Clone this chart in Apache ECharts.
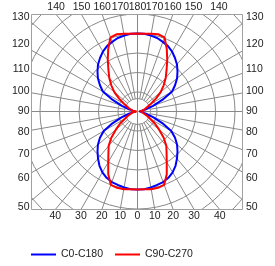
<!DOCTYPE html>
<html>
<head>
<meta charset="utf-8">
<script src="https://cdn.jsdelivr.net/npm/echarts@6/dist/echarts.min.js"></script>
<style>
  html, body { margin: 0; padding: 0; background: #fff; }
  #chart { width: 275px; height: 266px; }
</style>
</head>
<body>
<div id="chart"></div>
<script>
// gamma angle from nadir (0 = down, 180 = up), 5 deg steps
var gammas = [0, 5, 10, 15, 20, 25, 30, 35, 40, 45, 50, 55, 60, 65, 70, 75, 80, 85, 90,
              95, 100, 105, 110, 115, 120, 125, 130, 135, 140, 145, 150, 155, 160, 165, 170, 175, 180];
// C0-C180 plane
var c0c180 = [80, 80, 79, 78, 77, 75, 72, 68, 63, 58, 53, 47, 40, 28, 17, 9, 5, 2, 1,
              2, 5, 9, 17, 28, 41, 47, 53, 58, 63, 67, 71, 74, 76, 78, 79, 80, 80];
// C90-C270 plane
var c90c270 = [80, 80, 81, 81, 80, 71, 60, 52, 46, 38, 29, 22, 15, 11, 8, 6, 5, 3, 1,
               3, 5, 7, 9, 11, 16, 23, 31, 38, 45, 52, 61, 71, 81, 82, 81, 80, 80];
// angle labels round the frame
var topLabels = [140, 150, 160, 170, 180, 170, 160, 150, 140];
var sideLabels = [130, 120, 110, 100, 90, 80, 70, 60, 50];
var bottomLabels = [40, 30, 20, 10, 0, 10, 20, 30, 40];
var seriesNames = ['C0-C180', 'C90-C270'];

var cx = 137.5, cy = 111.5;
var L = 31.5, R = 242.5, T = 14.5, B = 209.5;
var gridColor = '#888888';
var font = '"Liberation Sans", Arial, sans-serif';

// both halves of a plane, right half mirrored
function planeData(vals) {
    var d = [];
    for (var i = 0; i < gammas.length; i++) d.push([vals[i], gammas[i]]);
    for (var j = gammas.length - 1; j >= 0; j--) d.push([vals[j], 360 - gammas[j]]);
    return d;
}

function rad(a) { return a * Math.PI / 180; }

var graphics = [
    { type: 'rect', z: 10, shape: { x: 0, y: 0, width: 275, height: T }, style: { fill: '#fff' } },
    { type: 'rect', z: 10, shape: { x: 0, y: B, width: 275, height: 266 - B }, style: { fill: '#fff' } },
    { type: 'rect', z: 10, shape: { x: 0, y: 0, width: L, height: 266 }, style: { fill: '#fff' } },
    { type: 'rect', z: 10, shape: { x: R, y: 0, width: 275 - R, height: 266 }, style: { fill: '#fff' } },
    { type: 'rect', z: 11, shape: { x: L, y: T, width: R - L, height: B - T }, style: { fill: 'none', stroke: '#a0a0a0', lineWidth: 1 } }
];

function addText(txt, x, y, align) {
    graphics.push({
        type: 'text', z: 12, x: x, y: y,
        style: { text: String(txt), fill: '#222', font: '10.5px ' + font, textAlign: align, textVerticalAlign: 'middle' }
    });
}

topLabels.forEach(function (g, i) {
    var s = i < 4 ? -1 : 1;
    addText(g, cx + s * (cy - T) * Math.tan(rad(180 - g)), 7, 'center');
});
bottomLabels.forEach(function (g, i) {
    var s = i < 4 ? -1 : 1;
    addText(g, cx + s * (B - cy) * Math.tan(rad(g)), 216, 'center');
});
sideLabels.forEach(function (g) {
    var y = cy - 116 * Math.tan(rad(g - 90));
    y = Math.max(17, Math.min(207, y));
    addText(g, 29.5, y, 'right');
    addText(g, 246, y, 'left');
});

var chart = echarts.init(document.getElementById('chart'));
var option = {
    animation: false,
    polar: [
        { center: [cx, cy], radius: [13, 156] },
        { center: [cx, cy], radius: [0, 156] }
    ],
    angleAxis: [
        {
            polarIndex: 0, type: 'value', min: 0, max: 360, interval: 10,
            startAngle: 270, clockwise: true,
            axisLine: { show: false }, axisTick: { show: false }, axisLabel: { show: false },
            splitLine: { show: true, lineStyle: { color: gridColor, width: 1 } }
        },
        {
            polarIndex: 1, type: 'value', min: 0, max: 360, interval: 90,
            startAngle: 270, clockwise: true,
            axisLine: { show: false }, axisTick: { show: false }, axisLabel: { show: false },
            splitLine: { show: true, lineStyle: { color: gridColor, width: 1 } }
        }
    ],
    radiusAxis: [
        {
            polarIndex: 0, type: 'value', min: 0, max: 1000, interval: 1000,
            axisLine: { show: false }, axisTick: { show: false }, axisLabel: { show: false },
            splitLine: { show: true, lineStyle: { color: gridColor, width: 1 } }
        },
        {
            polarIndex: 1, type: 'value', min: 0, max: 160, interval: 20,
            axisLine: { show: false }, axisTick: { show: false }, axisLabel: { show: false },
            splitLine: { show: true, lineStyle: { color: gridColor, width: 1 } }
        }
    ],
    legend: {
        left: 31, top: 249, z: 20, padding: 0,
        icon: 'rect', itemWidth: 25, itemHeight: 2, itemGap: 12,
        textStyle: { fontFamily: font, fontSize: 10.5, color: '#222' },
        data: seriesNames
    },
    series: [
        {
            name: seriesNames[0], type: 'line', coordinateSystem: 'polar', polarIndex: 1,
            showSymbol: false, z: 3,
            itemStyle: { color: '#0000ff' },
            lineStyle: { color: '#0000ff', width: 2 },
            data: planeData(c0c180)
        },
        {
            name: seriesNames[1], type: 'line', coordinateSystem: 'polar', polarIndex: 1,
            showSymbol: false, z: 4,
            itemStyle: { color: '#ff0000' },
            lineStyle: { color: '#ff0000', width: 2 },
            data: planeData(c90c270)
        }
    ],
    graphic: graphics
};
chart.setOption(option);
window.addEventListener('resize', function () { chart.resize(); });
</script>
</body>
</html>
